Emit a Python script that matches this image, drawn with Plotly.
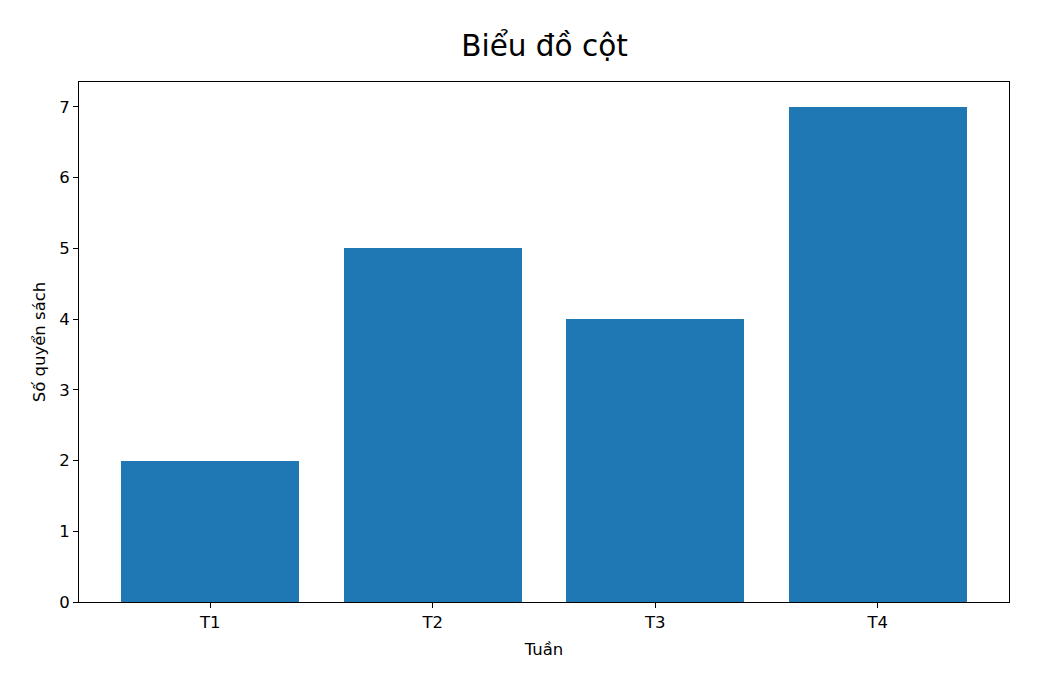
import plotly.graph_objects as go

weeks = ["T1", "T2", "T3", "T4"]
books = [2, 5, 4, 7]
y_ticks = [0, 1, 2, 3, 4, 5, 6, 7]

fig = go.Figure(data=[
    go.Bar(x=weeks, y=books, marker_color="#1f77b4", marker_line_width=0, width=0.8)
])

font_main = dict(family="DejaVu Sans", size=16.5, color="black")

axis_style = dict(
    showline=True, linecolor="black", linewidth=1, mirror=True,
    ticks="outside", ticklen=5, tickcolor="black", showgrid=False, zeroline=False,
    tickfont=font_main,
)

# page body adds an 8px offset, margins compensate for it
fig.update_layout(
    width=1039, height=686,
    margin=dict(l=71, r=38, t=74, b=92),
    paper_bgcolor="white", plot_bgcolor="white",
    bargap=0,
    title=dict(text="Biểu đồ cột", x=0.5164, xanchor="center", y=0.9446, yanchor="middle",
               font=dict(family="DejaVu Sans", size=29.5, color="black")),
    xaxis=dict(range=[-0.59, 3.59], title=dict(text="Tuần", standoff=12, font=font_main),
               **axis_style),
    yaxis=dict(range=[0, 7.35], tickvals=y_ticks,
               title=dict(text="Số quyển sách", standoff=9, font=font_main), **axis_style),
)

fig.write_html("out.html")
